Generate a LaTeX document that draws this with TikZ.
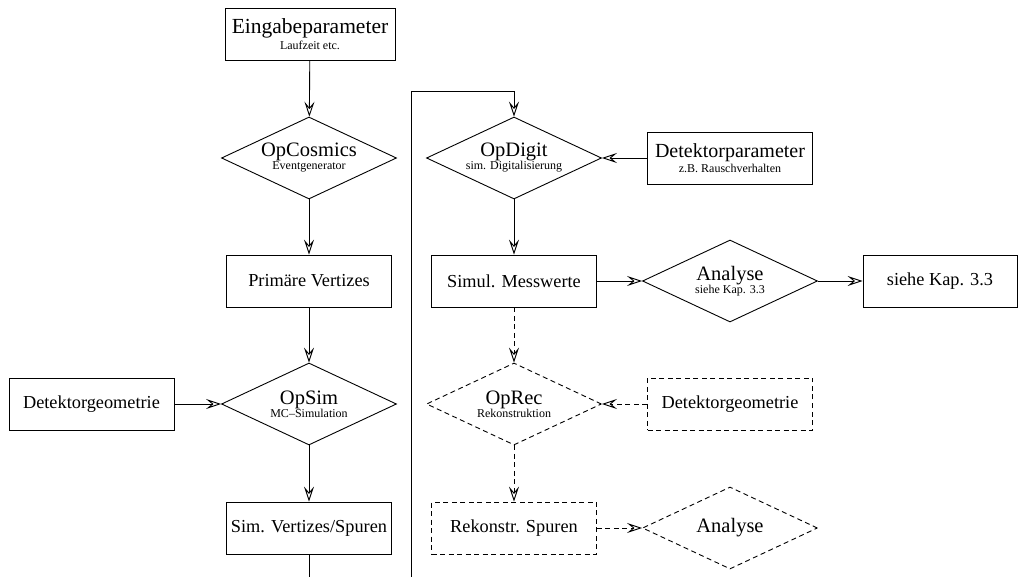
\documentclass[tikz,border=0pt]{standalone}
\usepackage{fontspec}
\setmainfont{Liberation Serif}
\usetikzlibrary{shapes.geometric,arrows.meta}

\newcommand{\gross}{\fontsize{20.5}{13}\selectfont}
\newcommand{\klein}{\fontsize{12}{13}\selectfont}

\begin{document}
\begin{tikzpicture}[x=1pt,y=-1pt,line width=0.9pt,
	>={Stealth[open,length=15pt,width=10pt,inset=6pt]},
	kasten/.style={draw,rectangle,minimum width=165pt,minimum height=52pt,inner sep=1pt,align=center,font=\fontsize{18.3}{20}\selectfont},
	raute/.style={draw,diamond,aspect=2.13,minimum width=175pt,minimum height=82pt,inner sep=0pt,align=center,font=\gross},
	gestrichelt/.style={dash pattern=on 5pt off 3.5pt}]
	\useasboundingbox (0,0) rectangle (1018,577);

	% linke Spalte
	\node[kasten,minimum width=170pt,font=\fontsize{21.5}{15.5}\selectfont] (ein) at (310,34) {Eingabeparameter\\{\klein Laufzeit etc.}};
	\node[raute] (cos) at (309,158) {OpCosmics\\{\klein Eventgenerator}};
	\node[kasten] (prim) at (309,281) {Primäre Vertizes};
	\node[raute] (sim) at (309,404) {OpSim\\{\klein MC--Simulation}};
	\node[kasten] (geo) at (91.5,404) {Detektorgeometrie};
	\node[kasten] (simvs) at (309,528) {Sim. Vertizes/Spuren};
	\coordinate (ende) at (309,577);

	% mittlere und rechte Spalte
	\node[raute] (dig) at (514,158) {OpDigit\\{\klein sim. Digitalisierung}};
	\node[kasten,font=\fontsize{20}{15}\selectfont] (par) at (730,158) {Detektorparameter\\{\klein z.B. Rauschverhalten}};
	\node[kasten] (msw) at (514,281) {Simul. Messwerte};
	\node[raute] (ana) at (730,281) {Analyse\\{\klein siehe Kap. 3.3}};
	\node[kasten,minimum width=154pt] (kap) at (940,281) {siehe Kap. 3.3};
	\node[raute,gestrichelt] (rec) at (514,404) {OpRec\\{\klein Rekonstruktion}};
	\node[kasten,gestrichelt] (geo2) at (730,404) {Detektorgeometrie};
	\node[kasten,gestrichelt] (spur) at (514,528) {Rekonstr. Spuren};
	\node[raute,gestrichelt] (ana2) at (730,528) {Analyse};
	\coordinate (unten) at (411,577);
	\coordinate (oben) at (411,91);

	\draw[->] (ein) -- (cos);
	\draw[->] (cos) -- (prim);
	\draw[->] (prim) -- (sim);
	\draw[->] (geo) -- (sim.west);
	\draw[->] (sim) -- (simvs);
	\draw (simvs) -- (ende);

	\draw[->] (unten) -- (oben) -| (dig.north);
	\draw[->] (par) -- (dig.east);
	\draw[->] (dig) -- (msw);
	\draw[->] (msw) -- (ana.west);
	\draw[->] (ana.east) -- (kap);
	\draw[->,gestrichelt] (msw) -- (rec);
	\draw[->,gestrichelt] (geo2) -- (rec.east);
	\draw[->,gestrichelt] (rec) -- (spur);
	\draw[->,gestrichelt] (spur) -- (ana2.west);
\end{tikzpicture}
\end{document}
